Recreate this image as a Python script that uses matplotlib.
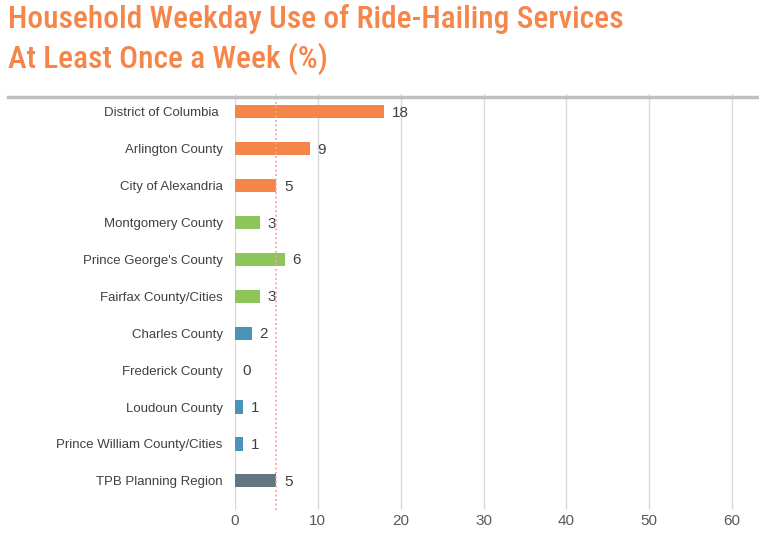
import matplotlib.pyplot as plt
from matplotlib.lines import Line2D

counties = ["District of Columbia ", "Arlington County", "City of Alexandria",
            "Montgomery County", "Prince George's County", "Fairfax County/Cities",
            "Charles County", "Frederick County", "Loudoun County",
            "Prince William County/Cities", "TPB Planning Region"]
values = [18, 9, 5, 3, 6, 3, 2, 0, 1, 1, 5]
groups = ["core", "core", "core", "inner", "inner", "inner",
          "outer", "outer", "outer", "outer", "region"]
region_avg = 5

colors = {"core": "#F58549", "inner": "#8CC65B", "outer": "#4A92B8", "region": "#627681"}

plt.rcParams['font.family'] = ['Liberation Sans', 'DejaVu Sans']

W, H = 759, 537
fig = plt.figure(figsize=(W / 100, H / 100), dpi=100)
# x = 0 at 235 px, x = 60 at 732 px
ax = fig.add_axes([235 / W, 1 - 510 / H, (757 - 235) / W, (510 - 94) / H])

ypos = list(range(len(counties)))
ax.barh(ypos, values, height=0.36, color=[colors[g] for g in groups], zorder=3)

for y, v in zip(ypos, values):
    ax.text(v + 0.95, y + 0.03, str(v), va="center", ha="left", fontsize=11, color="#404040")

ax.axvline(region_avg, color="#F4A3A3", linestyle=(0, (1, 1.5)), linewidth=1.3, zorder=4)

ax.set_xlim(0, 63)
ax.set_ylim(10.79, -0.48)
ax.set_xticks(range(0, 61, 10))
ax.set_yticks(ypos)
ax.set_yticklabels(counties)
ax.grid(axis="x", color="#D9D9D9", linewidth=1, zorder=0)
for s in ax.spines.values():
    s.set_visible(False)
ax.tick_params(axis="both", length=0, colors="#404040")
ax.tick_params(axis="y", pad=9, labelsize=9.5)
ax.tick_params(axis="x", pad=3, labelsize=11, labelcolor="#595959")

fig.add_artist(Line2D([8 / W, 1], [1 - 97 / H, 1 - 97 / H], color="#BFBFBF", linewidth=2.5))

title_font = dict(family=["Roboto Condensed", "DejaVu Sans"], fontweight=500,
                  fontsize=22.6, color="#F58549")
fig.text(8 / W, 1 - 28 / H, "Household Weekday Use of Ride-Hailing Services",
         va="baseline", ha="left", **title_font)
fig.text(8 / W, 1 - 68 / H, "At Least Once a Week (%)", va="baseline", ha="left", **title_font)

fig.savefig("out.png", dpi=100)
